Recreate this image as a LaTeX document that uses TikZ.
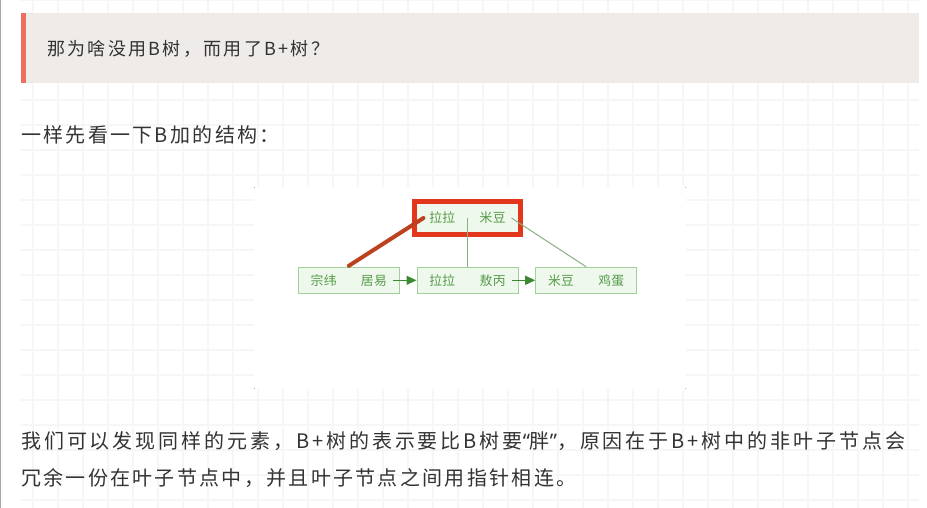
\documentclass[tikz,border=0pt]{standalone}
\usepackage{fontspec}
\setmainfont{Noto Sans CJK SC}
\newfontfamily\txtfont[LetterSpace=11.5]{Noto Sans CJK SC}
\newfontfamily\justfont[LetterSpace=14.6]{Noto Sans CJK SC}
\newfontfamily\quotefont[LetterSpace=12.8]{Noto Sans CJK SC}
\newfontfamily\qmfont[LetterSpace=14.6]{Noto Sans}
\newfontfamily\diafont[LetterSpace=2]{Noto Sans CJK SC}
\usetikzlibrary{arrows.meta}
\definecolor{gridc}{HTML}{F6F6F6}
\definecolor{quotebg}{HTML}{EEEBE8}
\definecolor{quotered}{HTML}{EE6E62}
\definecolor{textc}{HTML}{333333}
\definecolor{leafborder}{HTML}{A3CF9B}
\definecolor{leaffill}{HTML}{EFF8EC}
\definecolor{leaftext}{HTML}{549A48}
\definecolor{linkc}{HTML}{8CAF86}
\definecolor{arrc}{HTML}{3A8A30}
\definecolor{topred}{HTML}{E2371D}
\definecolor{hilite}{HTML}{BC421F}
\tikzset{
  gridline/.style={gridc, line width=1.3pt},
  bodytext/.style={anchor=west, inner sep=0pt, text=textc, font=\txtfont\fontsize{20}{20}\selectfont},
  justtext/.style={bodytext, font=\justfont\fontsize{20}{20}\selectfont},
  quotetext/.style={bodytext, font=\quotefont\fontsize{18}{18}\selectfont},
  leaf/.style={draw=leafborder, fill=leaffill, line width=1pt, minimum width=101pt, minimum height=26pt, inner sep=0pt, text=leaftext, font=\diafont\fontsize{12.8}{12.8}\selectfont},
  topnode/.style={leaf, draw=topred, line width=5pt, minimum width=106.6pt, minimum height=32.4pt},
  link/.style={linkc, line width=1pt},
  arr/.style={arrc, line width=1.2pt, -{Triangle[length=10pt,width=9pt]}},
  hl/.style={hilite, line width=4pt, line cap=round},
  cornerdot/.style={fill=gray!60, minimum size=1.5pt, inner sep=0pt}
}
\begin{document}
\begin{tikzpicture}[x=1pt,y=-1pt]
\useasboundingbox (0,0) rectangle (927,508);
\fill[white] (0,0) rectangle (927,508);
% grid
\foreach \x in {33,58,...,908} \draw[gridline] (\x,0) -- (\x,508);
\foreach \y in {0,25,...,500} \draw[gridline] (21,\y) -- (919,\y);
% left page border
\draw[gray!70, line width=1pt] (0.5,0) -- (0.5,508);
% quote block
\fill[quotebg] (21,13) rectangle (919,83);
\fill[quotered] (21,13) rectangle (26,83);
\node[quotetext] (q) at (47,48.5) {那为啥没用B树，而用了B+树？};
\node[bodytext] (intro) at (21,135) {一样先看一下B加的结构：};
% figure image
\fill[white] (254,187) rectangle (686,389);
\node[cornerdot] (c1) at (254.5,187.5) {};
\node[cornerdot] (c2) at (685.5,187.5) {};
\node[cornerdot] (c3) at (254.5,388.5) {};
\node[cornerdot] (c4) at (685.5,388.5) {};
% tree
\node[leaf] (L) at (348.8,280.3) {宗纬\hspace{24.4pt}居易};
\node[leaf] (M) at (467.5,280.3) {拉拉\hspace{24.4pt}敖丙};
\node[leaf] (R) at (586.2,280.3) {米豆\hspace{24.4pt}鸡蛋};
\node[topnode] (top) at (467.5,218) {拉拉\hspace{24.4pt}米豆};
\draw[link] (top.center) -- (M.north);
\draw[link] ([xshift=44pt]top.center) -- (R.north);
\draw[hl] ([xshift=-44pt]top.center) -- ([yshift=1pt]L.north);
\draw[arr] ([xshift=44.5pt]L.center) -- (M.west);
\draw[arr] ([xshift=44.5pt]M.center) -- (R.west);
% paragraph
\node[justtext] (p1) at (21,441) {我们可以发现同样的元素，B+树的表示要比B树要{\qmfont “}胖{\qmfont ”}，原因在于B+树中的非叶子节点会};
\node[bodytext] (p2) at (21,478) {冗余一份在叶子节点中，并且叶子节点之间用指针相连。};
\end{tikzpicture}
\end{document}
